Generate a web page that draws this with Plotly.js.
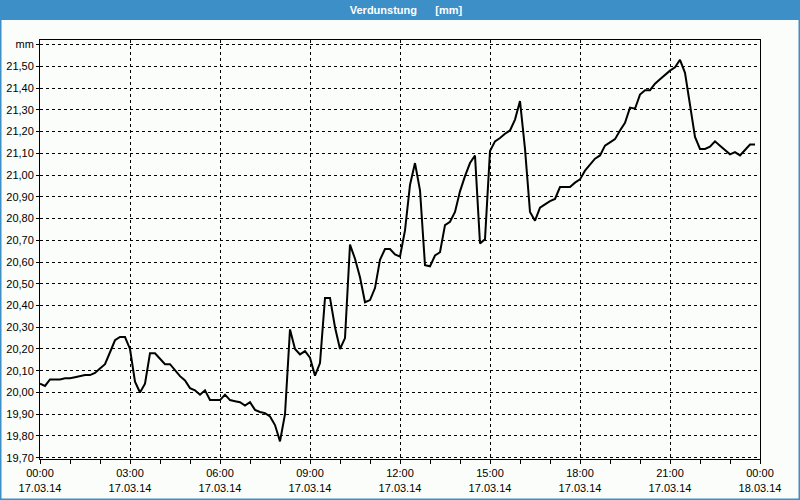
<!DOCTYPE html>
<html>
<head>
<meta charset="utf-8">
<script src="https://cdn.plot.ly/plotly-3.0.1.min.js"></script>
<style>
html,body{margin:0;padding:0;background:#fafdfa;}
#chart{width:800px;height:500px;}
</style>
</head>
<body>
<div id="chart"></div>
<script>
// 10-minute readings, 17.03.14 00:00 .. 23:50
const startTime = "2014-03-17 00:00";
const stepMinutes = 10;
const values = [
  20.04, 20.03, 20.06, 20.06, 20.06, 20.065, 20.065, 20.07, 20.075, 20.08,
  20.08, 20.09, 20.11, 20.13, 20.185, 20.24, 20.255, 20.255, 20.20, 20.05,
  20.00, 20.04, 20.18, 20.18, 20.155, 20.13, 20.13, 20.10, 20.075, 20.055,
  20.02, 20.01, 19.99, 20.01, 19.965, 19.965, 19.965, 19.99, 19.965, 19.96,
  19.955, 19.94, 19.955, 19.92, 19.91, 19.905, 19.89, 19.85, 19.775, 19.90,
  20.29, 20.20, 20.175, 20.19, 20.16, 20.077, 20.135, 20.435, 20.435, 20.30,
  20.20, 20.25, 20.68, 20.615, 20.53, 20.415, 20.425, 20.48, 20.61, 20.66,
  20.66, 20.635, 20.625, 20.745, 20.955, 21.055, 20.93, 20.585, 20.58, 20.63,
  20.645, 20.77, 20.785, 20.83, 20.925, 20.995, 21.055, 21.09, 20.685, 20.705,
  21.11, 21.155, 21.17, 21.19, 21.205, 21.255, 21.34, 21.12, 20.83, 20.79,
  20.85, 20.865, 20.88, 20.89, 20.945, 20.945, 20.945, 20.965, 20.98, 21.02,
  21.05, 21.075, 21.09, 21.135, 21.15, 21.165, 21.205, 21.24, 21.31, 21.305,
  21.37, 21.39, 21.39, 21.42, 21.44, 21.46, 21.48, 21.495, 21.53, 21.47,
  21.315, 21.175, 21.12, 21.12, 21.13, 21.155, 21.135, 21.115, 21.095, 21.105,
  21.09, 21.115, 21.14, 21.14
];
const yTickVals = [19.7, 19.8, 19.9, 20.0, 20.1, 20.2, 20.3, 20.4, 20.5, 20.6, 20.7, 20.8, 20.9, 21.0, 21.1, 21.2, 21.3, 21.4, 21.5, 21.6];
const yTickText = ["19,70","19,80","19,90","20,00","20,10","20,20","20,30","20,40","20,50","20,60","20,70","20,80","20,90","21,00","21,10","21,20","21,30","21,40","21,50","mm"];
const titleText = "Verdunstung\u00a0\u00a0\u00a0\u00a0\u00a0\u00a0[mm]";

const t0 = new Date(2014, 2, 17, 0, 0).getTime();
function fmt(ms){
  const d = new Date(ms);
  const p = n => String(n).padStart(2,'0');
  return d.getFullYear()+'-'+p(d.getMonth()+1)+'-'+p(d.getDate())+' '+p(d.getHours())+':'+p(d.getMinutes());
}
const times = values.map((v,i) => fmt(t0 + i*stepMinutes*60000));

const W = 800, H = 500, L = 40, R = 40, T = 40, B = 41;
const pw = W - L - R, ph = H - T - B;
const blue = '#3d8fc7';
const fontFam = '"Liberation Sans", Arial, sans-serif';

const layout = {
  width: W, height: H,
  margin: {l: L, r: R, t: T, b: B, pad: 0},
  paper_bgcolor: '#fafdfa',
  plot_bgcolor: '#fafdfa',
  showlegend: false,
  font: {family: fontFam, size: 11, color: '#000'},
  title: {
    text: titleText,
    font: {family: fontFam, size: 11, color: '#ffffff', weight: 'bold'},
    x: 406/800, xref: 'container', xanchor: 'center',
    y: 1 - 10/500, yref: 'container', yanchor: 'middle'
  },
  xaxis: {
    type: 'date',
    range: ['2014-03-17 00:00', '2014-03-18 00:00'],
    dtick: 3*3600000,
    tick0: '2014-03-17 00:00',
    tickformat: '%H:%M<br>%d.%m.%y',
    ticks: 'outside', ticklen: 4, tickcolor: '#000', tickwidth: 1,
    showgrid: true, gridcolor: '#000', gridwidth: 1, griddash: '3px,3px',
    showline: true, linecolor: '#000', linewidth: 1, mirror: true,
    zeroline: false,
    minor: {dtick: 3600000, ticks: 'outside', ticklen: 4, tickcolor: '#000', showgrid: false},
    tickfont: {family: fontFam, size: 11, color: '#000'},
    fixedrange: true
  },
  yaxis: {
    range: [19.694, 21.621],
    tickmode: 'array', tickvals: yTickVals, ticktext: yTickText,
    ticks: 'outside', ticklen: 3, tickcolor: '#000',
    showgrid: true, gridcolor: '#000', gridwidth: 1, griddash: '3px,3px',
    showline: true, linecolor: '#000', linewidth: 1, mirror: true,
    zeroline: false,
    tickfont: {family: fontFam, size: 11, color: '#000'},
    fixedrange: true
  },
  shapes: [
    {type: 'rect', xref: 'paper', yref: 'paper', layer: 'below',
     x0: -L/pw, x1: 1 + R/pw, y0: 1 + (T-20)/ph, y1: 1 + T/ph,
     fillcolor: blue, line: {width: 0}},
    {type: 'rect', xref: 'paper', yref: 'paper', layer: 'above',
     x0: -L/pw, x1: 1 + R/pw, y0: -B/ph, y1: 1 + T/ph,
     fillcolor: 'rgba(0,0,0,0)', line: {color: blue, width: 3}}
  ]
};

const data = [{
  type: 'scatter', mode: 'lines',
  x: times, y: values,
  line: {color: '#000', width: 2},
  hoverinfo: 'skip'
}];

Plotly.newPlot('chart', data, layout, {staticPlot: true, displayModeBar: false});
</script>
</body>
</html>
